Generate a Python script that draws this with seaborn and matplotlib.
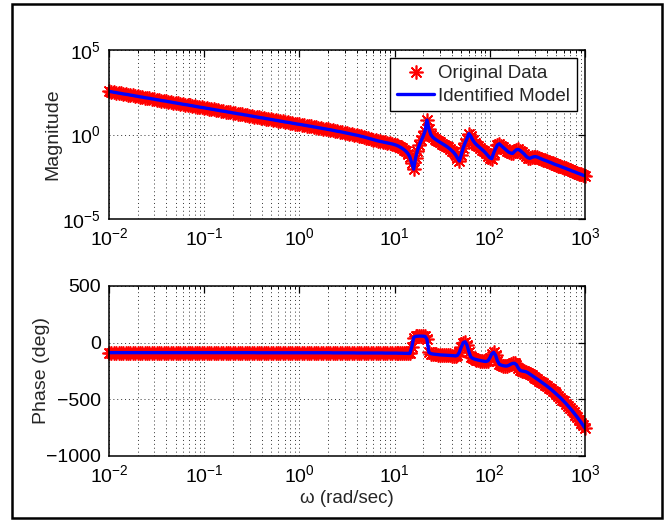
import numpy as np
import pandas as pd
import matplotlib
matplotlib.use("Agg")
import matplotlib.pyplot as plt
import matplotlib.ticker as mticker
from matplotlib.patches import Rectangle
import seaborn as sns

# ---------------- data ----------------
# log10 of frequency (rad/sec)
log_freq = [
    -2.000, -1.975, -1.950, -1.925, -1.900, -1.875, -1.850, -1.825, -1.800, -1.775,
    -1.750, -1.725, -1.700, -1.675, -1.650, -1.625, -1.600, -1.575, -1.550, -1.525,
    -1.500, -1.475, -1.450, -1.425, -1.400, -1.375, -1.350, -1.325, -1.300, -1.275,
    -1.250, -1.225, -1.200, -1.175, -1.150, -1.125, -1.100, -1.075, -1.050, -1.025,
    -1.000, -0.975, -0.950, -0.925, -0.900, -0.875, -0.850, -0.825, -0.800, -0.775,
    -0.750, -0.725, -0.700, -0.675, -0.650, -0.625, -0.600, -0.575, -0.550, -0.525,
    -0.500, -0.475, -0.450, -0.425, -0.400, -0.375, -0.350, -0.325, -0.300, -0.275,
    -0.250, -0.225, -0.200, -0.175, -0.150, -0.125, -0.100, -0.075, -0.050, -0.025,
    0.000, 0.025, 0.050, 0.075, 0.100, 0.125, 0.150, 0.175, 0.200, 0.225,
    0.250, 0.275, 0.300, 0.325, 0.350, 0.375, 0.400, 0.425, 0.450, 0.475,
    0.500, 0.525, 0.550, 0.575, 0.600, 0.625, 0.650, 0.675, 0.700, 0.725,
    0.750, 0.775, 0.800, 0.825, 0.850, 0.875, 0.900, 0.925, 0.950, 0.975,
    1.00, 1.02, 1.04, 1.06, 1.08, 1.10, 1.12, 1.14, 1.16, 1.18,
    1.20, 1.22, 1.24, 1.26, 1.28, 1.30, 1.32, 1.34, 1.36, 1.38,
    1.40, 1.42, 1.44, 1.46, 1.48, 1.50, 1.52, 1.54, 1.56, 1.58,
    1.60, 1.62, 1.64, 1.66, 1.68, 1.70, 1.72, 1.74, 1.76, 1.78,
    1.80, 1.82, 1.84, 1.86, 1.88, 1.90, 1.92, 1.94, 1.96, 1.98,
    2.00, 2.02, 2.04, 2.06, 2.08, 2.10, 2.12, 2.14, 2.16, 2.18,
    2.20, 2.22, 2.24, 2.26, 2.28, 2.30, 2.32, 2.34, 2.36, 2.38,
    2.40, 2.42, 2.44, 2.46, 2.48, 2.50, 2.52, 2.54, 2.56, 2.58,
    2.60, 2.62, 2.64, 2.66, 2.68, 2.70, 2.72, 2.74, 2.76, 2.78,
    2.80, 2.82, 2.84, 2.86, 2.88, 2.90, 2.92, 2.94, 2.96, 2.98,
    3.00,
]

# log10 of magnitude
log_mag = [
    2.55, 2.53, 2.50, 2.48, 2.45, 2.43, 2.40, 2.38, 2.36, 2.33,
    2.31, 2.28, 2.26, 2.23, 2.21, 2.18, 2.16, 2.14, 2.11, 2.09,
    2.06, 2.04, 2.01, 1.99, 1.97, 1.94, 1.92, 1.89, 1.87, 1.84,
    1.82, 1.79, 1.77, 1.75, 1.72, 1.70, 1.67, 1.65, 1.62, 1.60,
    1.58, 1.55, 1.53, 1.50, 1.48, 1.45, 1.43, 1.40, 1.38, 1.36,
    1.33, 1.31, 1.28, 1.26, 1.23, 1.21, 1.19, 1.16, 1.14, 1.11,
    1.09, 1.06, 1.04, 1.01, 0.99, 0.97, 0.94, 0.92, 0.89, 0.87,
    0.84, 0.82, 0.79, 0.77, 0.74, 0.72, 0.70, 0.67, 0.65, 0.62,
    0.60, 0.58, 0.55, 0.53, 0.50, 0.48, 0.45, 0.43, 0.40, 0.38,
    0.35, 0.33, 0.30, 0.28, 0.25, 0.22, 0.19, 0.17, 0.14, 0.11,
    0.08, 0.05, 0.02, -0.01, -0.04, -0.07, -0.11, -0.14, -0.18, -0.22,
    -0.26, -0.30, -0.34, -0.38, -0.41, -0.44, -0.47, -0.50, -0.53, -0.56,
    -0.60, -0.64, -0.69, -0.75, -0.82, -0.90, -1.00, -1.13, -1.33, -1.68,
    -2.05, -1.40, -0.95, -0.62, -0.35, -0.10, 0.20, 0.85, 0.35, 0.00,
    -0.15, -0.25, -0.33, -0.40, -0.47, -0.54, -0.61, -0.68, -0.76, -0.85,
    -0.95, -1.06, -1.20, -1.38, -1.57, -1.20, -0.80, -0.50, -0.25, 0.05,
    -0.10, -0.32, -0.48, -0.60, -0.70, -0.80, -0.90, -1.00, -1.12, -1.25,
    -1.38, -1.43, -1.10, -0.85, -0.62, -0.55, -0.66, -0.76, -0.86, -0.96,
    -1.05, -1.10, -1.12, -1.00, -0.90, -0.88, -0.95, -1.05, -1.15, -1.28,
    -1.37, -1.41, -1.36, -1.32, -1.31, -1.34, -1.39, -1.44, -1.49, -1.53,
    -1.57, -1.62, -1.66, -1.71, -1.76, -1.80, -1.84, -1.88, -1.93, -1.97,
    -2.01, -2.06, -2.10, -2.15, -2.19, -2.23, -2.28, -2.32, -2.36, -2.41,
    -2.45,
]

# phase (deg)
phase_deg = [
    -88, -88, -88, -88, -88, -88, -88, -88, -88, -88,
    -88, -88, -88, -88, -88, -88, -88, -88, -88, -88,
    -88, -88, -88, -88, -88, -88, -88, -88, -88, -88,
    -88, -88, -88, -88, -88, -88, -88, -88, -88, -88,
    -88, -88, -88, -88, -88, -88, -88, -88, -88, -88,
    -88, -88, -88, -88, -88, -88, -88, -88, -88, -88,
    -88, -88, -89, -89, -89, -89, -89, -89, -89, -89,
    -89, -89, -89, -89, -89, -89, -89, -89, -89, -89,
    -89, -89, -89, -89, -89, -89, -89, -89, -89, -89,
    -89, -89, -89, -89, -90, -90, -90, -90, -90, -90,
    -90, -90, -90, -90, -91, -91, -91, -91, -91, -91,
    -91, -91, -91, -91, -91, -91, -92, -92, -92, -92,
    -92, -92, -93, -93, -93, -94, -94, -95, -95, -40,
    45, 55, 57, 58, 58, 57, 55, 30, -85, -96,
    -100, -102, -104, -106, -108, -109, -110, -111, -112, -113,
    -114, -115, -117, -112, -85, -40, 0, 8, -20, -80,
    -125, -138, -145, -150, -154, -158, -161, -164, -166, -160,
    -135, -100, -85, -110, -160, -190, -198, -203, -206, -206,
    -200, -190, -183, -182, -195, -225, -245, -250, -253, -257,
    -265, -276, -288, -300, -311, -322, -334, -346, -358, -370,
    -383, -396, -410, -424, -439, -454, -469, -485, -502, -519,
    -537, -556, -575, -595, -616, -637, -659, -682, -705, -730,
    -755,
]

freq = 10.0 ** np.array(log_freq)
mag = 10.0 ** np.array(log_mag)
df = pd.DataFrame({"w": freq, "mag": mag, "phase": np.array(phase_deg, float)})

# ---------------- style ----------------
sns.set_theme(style="white")
plt.rcParams["font.family"] = ["Liberation Sans", "DejaVu Sans"]
plt.rcParams["mathtext.default"] = "regular"
plt.rcParams["axes.edgecolor"] = "black"
plt.rcParams["axes.linewidth"] = 1.1

W, H = 667, 520
fig = plt.figure(figsize=(W / 100, H / 100), dpi=100)
fig.patch.set_facecolor("white")

ax1 = fig.add_axes([109 / W, 1 - 219 / H, (585 - 109) / W, (219 - 50) / H])
ax2 = fig.add_axes([109 / W, 1 - 456 / H, (585 - 109) / W, (456 - 286) / H])

star = (8, 2, 0)
for ax, col in ((ax1, "mag"), (ax2, "phase")):
    sns.lineplot(data=df, x="w", y=col, ax=ax, estimator=None, sort=False,
                 linestyle="", marker=star, markersize=10, markeredgewidth=1.2,
                 color="red", markeredgecolor="red", label="Original Data",
                 clip_on=False)
    sns.lineplot(data=df, x="w", y=col, ax=ax, estimator=None, sort=False,
                 color="#0000ff", linewidth=2.4, label="Identified Model")
    ax.set_xscale("log")
    ax.set_xlim(1e-2, 1e3)
    ax.set_xticks([1e-2, 1e-1, 1e0, 1e1, 1e2, 1e3])
    ax.xaxis.set_major_formatter(mticker.LogFormatterMathtext())
    ax.xaxis.set_minor_locator(mticker.LogLocator(base=10, subs=np.arange(2, 10), numticks=20))
    ax.xaxis.set_minor_formatter(mticker.NullFormatter())
    ax.tick_params(which="both", direction="in", top=True, right=True,
                   labelsize=14, colors="black", pad=6)
    ax.tick_params(which="major", length=5, width=0.9)
    ax.tick_params(which="minor", length=2.5, width=0.7)
    ax.grid(True, which="major", axis="both", color="#333333", linestyle=(0, (1, 3)), linewidth=0.7)
    ax.grid(True, which="minor", axis="x", color="#333333", linestyle=(0, (1, 3)), linewidth=0.7)
    ax.set_axisbelow(True)
    for s in ax.spines.values():
        s.set_color("black")

ax1.set_yscale("log")
ax1.set_ylim(1e-5, 1e5)
ax1.set_yticks([1e-5, 1e0, 1e5])
ax1.yaxis.set_major_formatter(mticker.LogFormatterMathtext())
ax1.yaxis.set_minor_locator(mticker.NullLocator())
ax1.set_xlabel("")
ax1.set_ylabel("Magnitude", fontsize=14)
ax1.yaxis.set_label_coords(-0.100, 0.5)

ax2.set_ylim(-1000, 500)
ax2.set_yticks([-1000, -500, 0, 500])
ax2.yaxis.set_minor_locator(mticker.NullLocator())
ax2.set_xlabel("\u03c9 (rad/sec)", fontsize=13.5, labelpad=3)
ax2.set_ylabel("Phase (deg)", fontsize=14)
ax2.yaxis.set_label_coords(-0.125, 0.5)

leg = ax1.legend(loc="upper right", fontsize=13.5, frameon=True, fancybox=False,
                 framealpha=1, edgecolor="black", handlelength=2.0,
                 borderaxespad=0.45, borderpad=0.35, labelspacing=0.3,
                 handletextpad=0.2)
leg.get_frame().set_linewidth(1.0)
if ax2.legend_ is not None:
    ax2.legend_.remove()

# outer frame
fig.add_artist(Rectangle((12 / W, 1 - 518 / H), (662 - 12) / W, (518 - 4) / H,
                         transform=fig.transFigure, fill=False,
                         edgecolor="black", linewidth=1.8))

fig.savefig("out.png", dpi=100, facecolor="white")
